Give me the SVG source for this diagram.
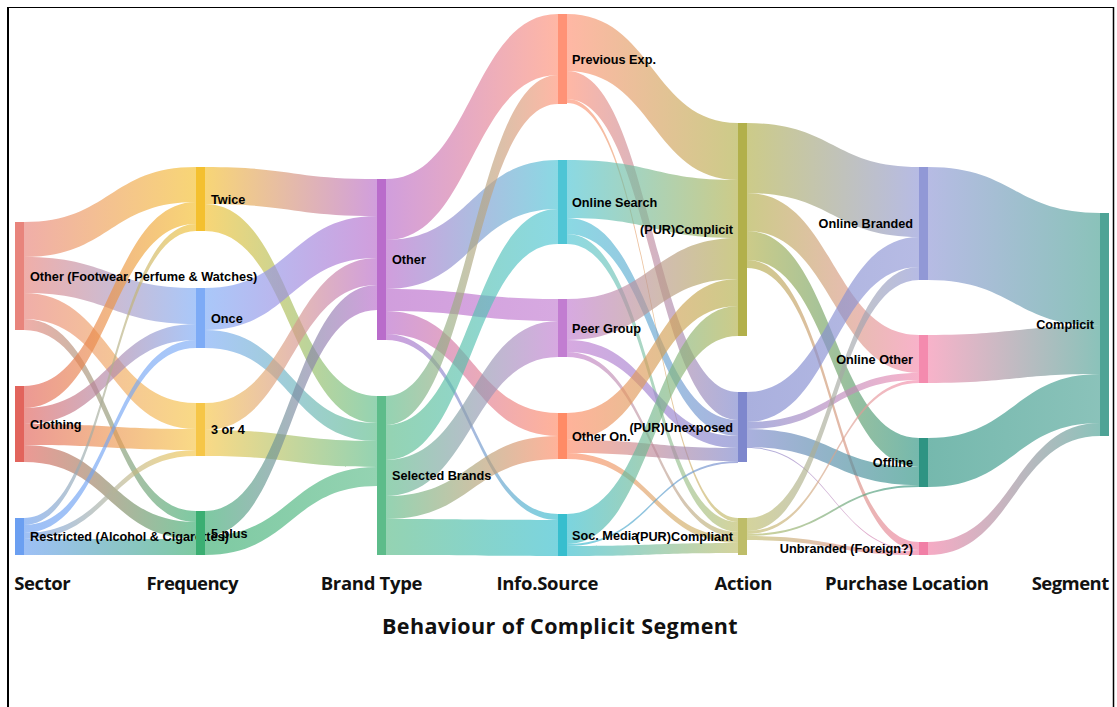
<svg xmlns="http://www.w3.org/2000/svg" width="1117" height="707" viewBox="0 0 1117 707">
<style>
.lk{fill-opacity:0.66}
.lbl{font-family:"Liberation Sans",Arial,sans-serif;font-weight:bold;font-size:12.7px;fill:#000}
.end{text-anchor:end}
.ax{font-family:"Open Sans","Noto Sans",sans-serif;font-weight:bold;font-size:18.5px;fill:#111}
.ttl{font-family:"Open Sans","Noto Sans",sans-serif;font-weight:bold;font-size:21.5px;fill:#111}
</style>
<defs>
<linearGradient id="g1"><stop offset="0" stop-color="#E8847C"/><stop offset="1" stop-color="#F4C02F"/></linearGradient>
<linearGradient id="g2"><stop offset="0" stop-color="#E8847C"/><stop offset="1" stop-color="#7DABF6"/></linearGradient>
<linearGradient id="g3"><stop offset="0" stop-color="#E8847C"/><stop offset="1" stop-color="#F6C647"/></linearGradient>
<linearGradient id="g4"><stop offset="0" stop-color="#E8847C"/><stop offset="1" stop-color="#3BAE72"/></linearGradient>
<linearGradient id="g5"><stop offset="0" stop-color="#E2645C"/><stop offset="1" stop-color="#F4C02F"/></linearGradient>
<linearGradient id="g6"><stop offset="0" stop-color="#E2645C"/><stop offset="1" stop-color="#7DABF6"/></linearGradient>
<linearGradient id="g7"><stop offset="0" stop-color="#E2645C"/><stop offset="1" stop-color="#F6C647"/></linearGradient>
<linearGradient id="g8"><stop offset="0" stop-color="#E2645C"/><stop offset="1" stop-color="#3BAE72"/></linearGradient>
<linearGradient id="g9"><stop offset="0" stop-color="#6B9FF1"/><stop offset="1" stop-color="#F4C02F"/></linearGradient>
<linearGradient id="g10"><stop offset="0" stop-color="#6B9FF1"/><stop offset="1" stop-color="#7DABF6"/></linearGradient>
<linearGradient id="g11"><stop offset="0" stop-color="#6B9FF1"/><stop offset="1" stop-color="#F6C647"/></linearGradient>
<linearGradient id="g12"><stop offset="0" stop-color="#6B9FF1"/><stop offset="1" stop-color="#3BAE72"/></linearGradient>
<linearGradient id="g13"><stop offset="0" stop-color="#F4C02F"/><stop offset="1" stop-color="#B96CCB"/></linearGradient>
<linearGradient id="g14"><stop offset="0" stop-color="#F4C02F"/><stop offset="1" stop-color="#5DBC8A"/></linearGradient>
<linearGradient id="g15"><stop offset="0" stop-color="#7DABF6"/><stop offset="1" stop-color="#B96CCB"/></linearGradient>
<linearGradient id="g16"><stop offset="0" stop-color="#7DABF6"/><stop offset="1" stop-color="#5DBC8A"/></linearGradient>
<linearGradient id="g17"><stop offset="0" stop-color="#F6C647"/><stop offset="1" stop-color="#B96CCB"/></linearGradient>
<linearGradient id="g18"><stop offset="0" stop-color="#F6C647"/><stop offset="1" stop-color="#5DBC8A"/></linearGradient>
<linearGradient id="g19"><stop offset="0" stop-color="#3BAE72"/><stop offset="1" stop-color="#B96CCB"/></linearGradient>
<linearGradient id="g20"><stop offset="0" stop-color="#3BAE72"/><stop offset="1" stop-color="#5DBC8A"/></linearGradient>
<linearGradient id="g21"><stop offset="0" stop-color="#B96CCB"/><stop offset="1" stop-color="#FF9276"/></linearGradient>
<linearGradient id="g22"><stop offset="0" stop-color="#B96CCB"/><stop offset="1" stop-color="#4EC5D5"/></linearGradient>
<linearGradient id="g23"><stop offset="0" stop-color="#B96CCB"/><stop offset="1" stop-color="#C27DD1"/></linearGradient>
<linearGradient id="g24"><stop offset="0" stop-color="#B96CCB"/><stop offset="1" stop-color="#FF8B66"/></linearGradient>
<linearGradient id="g25"><stop offset="0" stop-color="#B96CCB"/><stop offset="1" stop-color="#37BECE"/></linearGradient>
<linearGradient id="g26"><stop offset="0" stop-color="#5DBC8A"/><stop offset="1" stop-color="#FF9276"/></linearGradient>
<linearGradient id="g27"><stop offset="0" stop-color="#5DBC8A"/><stop offset="1" stop-color="#4EC5D5"/></linearGradient>
<linearGradient id="g28"><stop offset="0" stop-color="#5DBC8A"/><stop offset="1" stop-color="#C27DD1"/></linearGradient>
<linearGradient id="g29"><stop offset="0" stop-color="#5DBC8A"/><stop offset="1" stop-color="#FF8B66"/></linearGradient>
<linearGradient id="g30"><stop offset="0" stop-color="#5DBC8A"/><stop offset="1" stop-color="#37BECE"/></linearGradient>
<linearGradient id="g31"><stop offset="0" stop-color="#FF9276"/><stop offset="1" stop-color="#B2B04B"/></linearGradient>
<linearGradient id="g32"><stop offset="0" stop-color="#FF9276"/><stop offset="1" stop-color="#7E87CD"/></linearGradient>
<linearGradient id="g33"><stop offset="0" stop-color="#FF9276"/><stop offset="1" stop-color="#BEBD69"/></linearGradient>
<linearGradient id="g34"><stop offset="0" stop-color="#4EC5D5"/><stop offset="1" stop-color="#B2B04B"/></linearGradient>
<linearGradient id="g35"><stop offset="0" stop-color="#4EC5D5"/><stop offset="1" stop-color="#7E87CD"/></linearGradient>
<linearGradient id="g36"><stop offset="0" stop-color="#4EC5D5"/><stop offset="1" stop-color="#BEBD69"/></linearGradient>
<linearGradient id="g37"><stop offset="0" stop-color="#C27DD1"/><stop offset="1" stop-color="#B2B04B"/></linearGradient>
<linearGradient id="g38"><stop offset="0" stop-color="#C27DD1"/><stop offset="1" stop-color="#7E87CD"/></linearGradient>
<linearGradient id="g39"><stop offset="0" stop-color="#C27DD1"/><stop offset="1" stop-color="#BEBD69"/></linearGradient>
<linearGradient id="g40"><stop offset="0" stop-color="#FF8B66"/><stop offset="1" stop-color="#B2B04B"/></linearGradient>
<linearGradient id="g41"><stop offset="0" stop-color="#FF8B66"/><stop offset="1" stop-color="#7E87CD"/></linearGradient>
<linearGradient id="g42"><stop offset="0" stop-color="#FF8B66"/><stop offset="1" stop-color="#BEBD69"/></linearGradient>
<linearGradient id="g43"><stop offset="0" stop-color="#37BECE"/><stop offset="1" stop-color="#B2B04B"/></linearGradient>
<linearGradient id="g44"><stop offset="0" stop-color="#37BECE"/><stop offset="1" stop-color="#7E87CD"/></linearGradient>
<linearGradient id="g45"><stop offset="0" stop-color="#37BECE"/><stop offset="1" stop-color="#BEBD69"/></linearGradient>
<linearGradient id="g46"><stop offset="0" stop-color="#B2B04B"/><stop offset="1" stop-color="#9198D6"/></linearGradient>
<linearGradient id="g47"><stop offset="0" stop-color="#B2B04B"/><stop offset="1" stop-color="#F48BAE"/></linearGradient>
<linearGradient id="g48"><stop offset="0" stop-color="#B2B04B"/><stop offset="1" stop-color="#2E9483"/></linearGradient>
<linearGradient id="g49"><stop offset="0" stop-color="#B2B04B"/><stop offset="1" stop-color="#F17FA6"/></linearGradient>
<linearGradient id="g50"><stop offset="0" stop-color="#7E87CD"/><stop offset="1" stop-color="#9198D6"/></linearGradient>
<linearGradient id="g51"><stop offset="0" stop-color="#7E87CD"/><stop offset="1" stop-color="#F48BAE"/></linearGradient>
<linearGradient id="g52"><stop offset="0" stop-color="#7E87CD"/><stop offset="1" stop-color="#2E9483"/></linearGradient>
<linearGradient id="g53"><stop offset="0" stop-color="#7E87CD"/><stop offset="1" stop-color="#F17FA6"/></linearGradient>
<linearGradient id="g54"><stop offset="0" stop-color="#BEBD69"/><stop offset="1" stop-color="#9198D6"/></linearGradient>
<linearGradient id="g55"><stop offset="0" stop-color="#BEBD69"/><stop offset="1" stop-color="#F48BAE"/></linearGradient>
<linearGradient id="g56"><stop offset="0" stop-color="#BEBD69"/><stop offset="1" stop-color="#2E9483"/></linearGradient>
<linearGradient id="g57"><stop offset="0" stop-color="#BEBD69"/><stop offset="1" stop-color="#F17FA6"/></linearGradient>
<linearGradient id="g58"><stop offset="0" stop-color="#9198D6"/><stop offset="1" stop-color="#4EA396"/></linearGradient>
<linearGradient id="g59"><stop offset="0" stop-color="#F48BAE"/><stop offset="1" stop-color="#4EA396"/></linearGradient>
<linearGradient id="g60"><stop offset="0" stop-color="#2E9483"/><stop offset="1" stop-color="#4EA396"/></linearGradient>
<linearGradient id="g61"><stop offset="0" stop-color="#F17FA6"/><stop offset="1" stop-color="#4EA396"/></linearGradient>
</defs>
<rect x="0" y="0" width="1117" height="707" fill="#fff"/>
<g id="frame" stroke="#000" fill="none">
<line x1="8" y1="7.5" x2="1114" y2="7.5" stroke-width="1"/>
<line x1="8" y1="7" x2="8" y2="707" stroke-width="2"/>
<line x1="1113.5" y1="7" x2="1113.5" y2="707" stroke-width="1.5"/>
</g>
<g id="links">
<path class="lk" fill="url(#g1)" d="M24 222C110 222 110 167 196 167L196 202C110 202 110 257 24 257Z"/>
<path class="lk" fill="url(#g2)" d="M24 257C110 257 110 288 196 288L196 324C110 324 110 293 24 293Z"/>
<path class="lk" fill="url(#g3)" d="M24 293C110 293 110 403 196 403L196 429C110 429 110 319 24 319Z"/>
<path class="lk" fill="url(#g4)" d="M24 319C110 319 110 511 196 511L196 522C110 522 110 330 24 330Z"/>
<path class="lk" fill="url(#g5)" d="M24 386C110 386 110 202 196 202L196 224C110 224 110 408 24 408Z"/>
<path class="lk" fill="url(#g6)" d="M24 408C110 408 110 324 196 324L196 340C110 340 110 424 24 424Z"/>
<path class="lk" fill="url(#g7)" d="M24 424C110 424 110 429 196 429L196 450C110 450 110 445 24 445Z"/>
<path class="lk" fill="url(#g8)" d="M24 445C110 445 110 522 196 522L196 539C110 539 110 462 24 462Z"/>
<path class="lk" fill="url(#g9)" d="M24 518C110 518 110 224 196 224L196 231C110 231 110 525 24 525Z"/>
<path class="lk" fill="url(#g10)" d="M24 525C110 525 110 340 196 340L196 348C110 348 110 533 24 533Z"/>
<path class="lk" fill="url(#g11)" d="M24 533C110 533 110 450 196 450L196 456C110 456 110 539 24 539Z"/>
<path class="lk" fill="url(#g12)" d="M24 539C110 539 110 539 196 539L196 555C110 555 110 555 24 555Z"/>
<path class="lk" fill="url(#g13)" d="M205 167C291 167 291 179 377 179L377 216C291 216 291 204 205 204Z"/>
<path class="lk" fill="url(#g14)" d="M205 204C291 204 291 396 377 396L377 423C291 423 291 231 205 231Z"/>
<path class="lk" fill="url(#g15)" d="M205 288C291 288 291 216 377 216L377 258C291 258 291 330 205 330Z"/>
<path class="lk" fill="url(#g16)" d="M205 330C291 330 291 423 377 423L377 441C291 441 291 348 205 348Z"/>
<path class="lk" fill="url(#g17)" d="M205 403C291 403 291 258 377 258L377 285C291 285 291 430 205 430Z"/>
<path class="lk" fill="url(#g18)" d="M205 430C291 430 291 441 377 441L377 467C291 467 291 456 205 456Z"/>
<path class="lk" fill="url(#g19)" d="M205 511C291 511 291 285 377 285L377 310C291 310 291 536 205 536Z"/>
<path class="lk" fill="url(#g20)" d="M205 536C291 536 291 467 377 467L377 486C291 486 291 555 205 555Z"/>
<path class="lk" fill="url(#g21)" d="M386 179C472 179 472 14 558 14L558 75C472 75 472 240 386 240Z"/>
<path class="lk" fill="url(#g22)" d="M386 240C472 240 472 160 558 160L558 209C472 209 472 289 386 289Z"/>
<path class="lk" fill="url(#g23)" d="M386 289C472 289 472 299 558 299L558 321C472 321 472 311 386 311Z"/>
<path class="lk" fill="url(#g24)" d="M386 311C472 311 472 413 558 413L558 436C472 436 472 334 386 334Z"/>
<path class="lk" fill="url(#g25)" d="M386 334C472 334 472 514 558 514L558 520C472 520 472 340 386 340Z"/>
<path class="lk" fill="url(#g26)" d="M386 396C472 396 472 75 558 75L558 104C472 104 472 425 386 425Z"/>
<path class="lk" fill="url(#g27)" d="M386 425C472 425 472 209 558 209L558 244C472 244 472 460 386 460Z"/>
<path class="lk" fill="url(#g28)" d="M386 460C472 460 472 321 558 321L558 357C472 357 472 496 386 496Z"/>
<path class="lk" fill="url(#g29)" d="M386 496C472 496 472 436 558 436L558 459C472 459 472 519 386 519Z"/>
<path class="lk" fill="url(#g30)" d="M386 519C472 519 472 520 558 520L558 556C472 556 472 555 386 555Z"/>
<path class="lk" fill="url(#g31)" d="M567 14C652.5 14 652.5 123 738 123L738 180C652.5 180 652.5 71 567 71Z"/>
<path class="lk" fill="url(#g32)" d="M567 71C652.5 71 652.5 392 738 392L738 420C652.5 420 652.5 99 567 99Z"/>
<path class="lk" fill="url(#g33)" d="M567 99C652.5 99 652.5 518 738 518L738 522C652.5 522 652.5 103 567 103Z"/>
<path class="lk" fill="url(#g34)" d="M567 160C652.5 160 652.5 180 738 180L738 238C652.5 238 652.5 218 567 218Z"/>
<path class="lk" fill="url(#g35)" d="M567 218C652.5 218 652.5 420 738 420L738 436C652.5 436 652.5 234 567 234Z"/>
<path class="lk" fill="url(#g36)" d="M567 234C652.5 234 652.5 522 738 522L738 532C652.5 532 652.5 244 567 244Z"/>
<path class="lk" fill="url(#g37)" d="M567 299C652.5 299 652.5 238 738 238L738 279C652.5 279 652.5 340 567 340Z"/>
<path class="lk" fill="url(#g38)" d="M567 340C652.5 340 652.5 436 738 436L738 448C652.5 448 652.5 352 567 352Z"/>
<path class="lk" fill="url(#g39)" d="M567 352C652.5 352 652.5 532 738 532L738 537C652.5 537 652.5 357 567 357Z"/>
<path class="lk" fill="url(#g40)" d="M567 413C652.5 413 652.5 279 738 279L738 306C652.5 306 652.5 440 567 440Z"/>
<path class="lk" fill="url(#g41)" d="M567 440C652.5 440 652.5 448 738 448L738 461C652.5 461 652.5 453 567 453Z"/>
<path class="lk" fill="url(#g42)" d="M567 453C652.5 453 652.5 537 738 537L738 543C652.5 543 652.5 459 567 459Z"/>
<path class="lk" fill="url(#g43)" d="M567 514C652.5 514 652.5 306 738 306L738 336C652.5 336 652.5 544 567 544Z"/>
<path class="lk" fill="url(#g44)" d="M567 544C652.5 544 652.5 461 738 461L738 463C652.5 463 652.5 546 567 546Z"/>
<path class="lk" fill="url(#g45)" d="M567 546C652.5 546 652.5 543 738 543L738 553C652.5 553 652.5 556 567 556Z"/>
<path class="lk" fill="url(#g46)" d="M747 123C833 123 833 167 919 167L919 237C833 237 833 193 747 193Z"/>
<path class="lk" fill="url(#g47)" d="M747 193C833 193 833 335 919 335L919 373C833 373 833 231 747 231Z"/>
<path class="lk" fill="url(#g48)" d="M747 231C833 231 833 438 919 438L919 467C833 467 833 260 747 260Z"/>
<path class="lk" fill="url(#g49)" d="M747 260C833 260 833 542 919 542L919 550C833 550 833 268 747 268Z"/>
<path class="lk" fill="url(#g50)" d="M747 392C833 392 833 237 919 237L919 267C833 267 833 422 747 422Z"/>
<path class="lk" fill="url(#g51)" d="M747 422C833 422 833 373 919 373L919 380C833 380 833 429 747 429Z"/>
<path class="lk" fill="url(#g52)" d="M747 429C833 429 833 467 919 467L919 485C833 485 833 447 747 447Z"/>
<path class="lk" fill="url(#g53)" d="M747 447C833 447 833 550 919 550L919 551C833 551 833 448 747 448Z"/>
<path class="lk" fill="url(#g54)" d="M747 518C833 518 833 267 919 267L919 280C833 280 833 531 747 531Z"/>
<path class="lk" fill="url(#g55)" d="M747 531C833 531 833 380 919 380L919 383C833 383 833 534 747 534Z"/>
<path class="lk" fill="url(#g56)" d="M747 534C833 534 833 485 919 485L919 487C833 487 833 536 747 536Z"/>
<path class="lk" fill="url(#g57)" d="M747 536C833 536 833 551 919 551L919 555C833 555 833 540 747 540Z"/>
<path class="lk" fill="url(#g58)" d="M928 167C1014 167 1014 213 1100 213L1100 326C1014 326 1014 280 928 280Z"/>
<path class="lk" fill="url(#g59)" d="M928 335C1014 335 1014 326 1100 326L1100 374C1014 374 1014 383 928 383Z"/>
<path class="lk" fill="url(#g60)" d="M928 438C1014 438 1014 374 1100 374L1100 423C1014 423 1014 487 928 487Z"/>
<path class="lk" fill="url(#g61)" d="M928 542C1014 542 1014 423 1100 423L1100 436C1014 436 1014 555 928 555Z"/>
</g>
<g id="node-sector-other"><rect x="15" y="222" width="9" height="108" fill="#E8847C"/><text class="lbl" x="30" y="280.5">Other (Footwear, Perfume &amp; Watches)</text></g>
<g id="node-clothing"><rect x="15" y="386" width="9" height="76" fill="#E2645C"/><text class="lbl" x="30" y="428.5">Clothing</text></g>
<g id="node-restricted"><rect x="15" y="518" width="9" height="37" fill="#6B9FF1"/><text class="lbl" x="30" y="541">Restricted (Alcohol &amp; Cigarettes)</text></g>
<g id="node-twice"><rect x="196" y="167" width="9" height="64" fill="#F4C02F"/><text class="lbl" x="211" y="203.5">Twice</text></g>
<g id="node-once"><rect x="196" y="288" width="9" height="60" fill="#7DABF6"/><text class="lbl" x="211" y="322.5">Once</text></g>
<g id="node-3or4"><rect x="196" y="403" width="9" height="53" fill="#F6C647"/><text class="lbl" x="211" y="434">3 or 4</text></g>
<g id="node-5plus"><rect x="196" y="511" width="9" height="44" fill="#3BAE72"/><text class="lbl" x="211" y="537.5">5 plus</text></g>
<g id="node-brand-other"><rect x="377" y="179" width="9" height="161" fill="#B96CCB"/><text class="lbl" x="392" y="264">Other</text></g>
<g id="node-selected"><rect x="377" y="396" width="9" height="159" fill="#5DBC8A"/><text class="lbl" x="392" y="480">Selected Brands</text></g>
<g id="node-prev"><rect x="558" y="14" width="9" height="90" fill="#FF9276"/><text class="lbl" x="572" y="64">Previous Exp.</text></g>
<g id="node-online-search"><rect x="558" y="160" width="9" height="84" fill="#4EC5D5"/><text class="lbl" x="572" y="206.5">Online Search</text></g>
<g id="node-peer"><rect x="558" y="299" width="9" height="58" fill="#C27DD1"/><text class="lbl" x="572" y="332.5">Peer Group</text></g>
<g id="node-other-on"><rect x="558" y="413" width="9" height="46" fill="#FF8B66"/><text class="lbl" x="572" y="440.5">Other On.</text></g>
<g id="node-soc-media"><rect x="558" y="514" width="9" height="42" fill="#37BECE"/><text class="lbl" x="572" y="539.5">Soc. Media</text></g>
<g id="node-pur-complicit"><rect x="738" y="123" width="9" height="213" fill="#B2B04B"/><text class="lbl end" x="733" y="234">(PUR)Complicit</text></g>
<g id="node-pur-unexposed"><rect x="738" y="392" width="9" height="70" fill="#7E87CD"/><text class="lbl end" x="733" y="431.5">(PUR)Unexposed</text></g>
<g id="node-pur-compliant"><rect x="738" y="518" width="9" height="37" fill="#BEBD69"/><text class="lbl end" x="733" y="541">(PUR)Compliant</text></g>
<g id="node-online-branded"><rect x="919" y="167" width="9" height="113" fill="#9198D6"/><text class="lbl end" x="913" y="228">Online Branded</text></g>
<g id="node-online-other"><rect x="919" y="335" width="9" height="48" fill="#F48BAE"/><text class="lbl end" x="913" y="363.5">Online Other</text></g>
<g id="node-offline"><rect x="919" y="438" width="9" height="49" fill="#2E9483"/><text class="lbl end" x="913" y="467">Offline</text></g>
<g id="node-unbranded"><rect x="919" y="542" width="9" height="13" fill="#F17FA6"/><text class="lbl end" x="913" y="553">Unbranded (Foreign?)</text></g>
<g id="node-complicit"><rect x="1100" y="213" width="9" height="223" fill="#4EA396"/><text class="lbl end" x="1094" y="329">Complicit</text></g>
<g id="axis-labels">
<text class="ax" x="14.3" y="590" textLength="56.4">Sector</text>
<text class="ax" x="146.4" y="590" textLength="92.2">Frequency</text>
<text class="ax" x="320.7" y="590" textLength="101.8">Brand Type</text>
<text class="ax" x="496.4" y="590" textLength="102">Info.Source</text>
<text class="ax" x="714.5" y="590" textLength="57.9">Action</text>
<text class="ax" x="825" y="590" textLength="164">Purchase Location</text>
<text class="ax" x="1031.7" y="590" textLength="77.5">Segment</text>
<text class="ttl" x="382" y="633.5" textLength="355.6">Behaviour of Complicit Segment</text>
</g>
</svg>
